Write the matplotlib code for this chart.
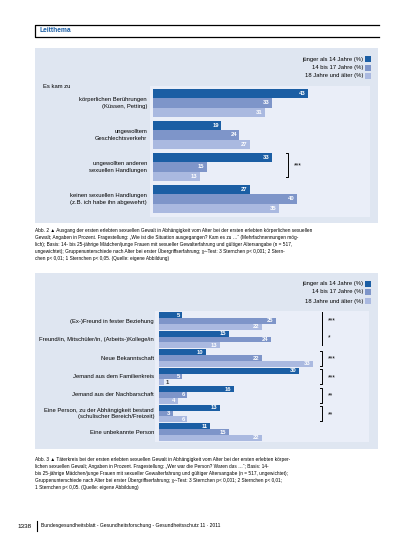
import matplotlib
matplotlib.use("Agg")
from matplotlib import pyplot as plt
from matplotlib.patches import Rectangle
from matplotlib.lines import Line2D
import numpy as np

plt.rcParams['font.family'] = ['Liberation Sans', 'DejaVu Sans']

# data
age_groups = ["jünger als 14 Jahre (%)", "14 bis 17 Jahre (%)", "18 Jahre und älter (%)"]
colors = ["#1b5ea4", "#7e95c9", "#aab9e0"]

outcome_labels = ["körperlichen Berührungen\n(Küssen, Petting)",
                  "ungewolltem\nGeschlechtsverkehr",
                  "ungewollten anderen\nsexuellen Handlungen",
                  "keinen sexuellen Handlungen\n(z.B. ich habe ihn abgewehrt)"]
outcome_u14 = [43, 19, 33, 27]
outcome_14_17 = [33, 24, 15, 40]
outcome_18 = [31, 27, 13, 35]
outcome_sig = ["", "", "***", ""]

offender_labels = ["(Ex-)Freund in fester Beziehung",
                   "Freund/in, Mitschüler/in, (Arbeits-)Kollege/in",
                   "Neue Bekanntschaft",
                   "Jemand aus dem Familienkreis",
                   "Jemand aus der Nachbarschaft",
                   "Eine Person, zu der Abhängigkeit bestand\n(schulischer Bereich/Freizeit)",
                   "Eine unbekannte Person"]
offender_u14 = [5, 15, 10, 30, 16, 13, 11]
offender_14_17 = [25, 24, 22, 5, 6, 3, 15]
offender_18 = [22, 13, 33, 1, 4, 6, 22]
offender_sig = ["***", "*", "***", "***", "**", "**", ""]

caption1 = ("Abb. 2 \u25b2 Ausgang der ersten erlebten sexuellen Gewalt in Abhängigkeit vom Alter bei der ersten erlebten körperlichen sexuellen\n"
            "Gewalt; Angaben in Prozent. Fragestellung: \u201eWie ist die Situation ausgegangen? Kam es zu \u2026\u201c (Mehrfachnennungen mög-\n"
            "lich); Basis: 14- bis 25-jährige Mädchen/junge Frauen mit sexueller Gewalterfahrung und gültiger Altersangabe (n = 517,\n"
            "ungewichtet); Gruppenunterschiede nach Alter bei erster Übergriffserfahrung; \u03c7\u00b2-Test: 3 Sternchen p< 0,001; 2 Stern-\n"
            "chen p< 0,01; 1 Sternchen p< 0,05. (Quelle: eigene Abbildung)")
caption2 = ("Abb. 3 \u25b2 Täterkreis bei der ersten erlebten sexuellen Gewalt in Abhängigkeit vom Alter bei der ersten erlebten körper-\n"
            "lichen sexuellen Gewalt; Angaben in Prozent. Fragestellung: \u201eWer war die Person? Waren das \u2026\u201c; Basis: 14-\n"
            "bis 25-jährige Mädchen/junge Frauen mit sexueller Gewalterfahrung und gültiger Altersangabe (n = 517, ungewichtet);\n"
            "Gruppenunterschiede nach Alter bei erster Übergriffserfahrung; \u03c7\u00b2-Test: 3 Sternchen p< 0,001; 2 Sternchen p< 0,01;\n"
            "1 Sternchen p< 0,05. (Quelle: eigene Abbildung)")

W, H = 413, 550
fig = plt.figure(figsize=(W / 100, H / 100), dpi=100)


def fx(x):
    return x / W


def fy(y):
    return 1 - y / H


def add_rect(x0, y0, x1, y1, color, z=-1):
    fig.patches.append(Rectangle((fx(x0), fy(y1)), fx(x1) - fx(x0), fy(y0) - fy(y1),
                                 transform=fig.transFigure, facecolor=color,
                                 edgecolor="none", zorder=z))


def add_line(xs, ys, lw=0.7):
    fig.lines.append(Line2D([fx(x) for x in xs], [fy(y) for y in ys],
                            transform=fig.transFigure, color="black", lw=lw, zorder=3))


# header box
add_line([379, 35, 35, 379], [25, 25, 37, 37], lw=0.9)
fig.text(fx(39), fy(31), "Leitthema", color="#1b5ea4", fontsize=4.8,
         fontweight="bold", va="center")


def panel(box, ax_box, x0px, pxper, pitch, first_center, labels, series,
          sig, label_x, legend_y, bar_h, brackets, star_x, fs):
    add_rect(*box, "#dfe6f1")
    left, top, right, bottom = ax_box
    ax = fig.add_axes([fx(left), fy(bottom), fx(right) - fx(left), fy(top) - fy(bottom)])
    ax.set_facecolor("#eaeef8")
    for s in ax.spines.values():
        s.set_visible(False)
    ax.set_xticks([])
    ax.set_yticks([])
    ax.set_xlim((left - x0px) / pxper, (right - x0px) / pxper)
    ax.set_ylim((bottom - first_center) / pitch, (top - first_center) / pitch)

    n = len(labels)
    idx = np.arange(n)
    for j, vals in enumerate(series):
        ypos = idx + (j - 1) * bar_h
        ax.barh(ypos, vals, height=bar_h, color=colors[j], edgecolor="none")
        for y, v in zip(ypos, vals):
            if v >= 3:
                ax.annotate(str(v), (v, y), xytext=(-1.8, 0), textcoords="offset points",
                            ha="right", va="center", color="white", fontsize=fs,
                            fontweight="bold")
            else:
                ax.annotate(str(v), (v, y), xytext=(1.2, 0), textcoords="offset points",
                            ha="left", va="center", color="#333333", fontsize=fs,
                            fontweight="bold")

    for i, lab in enumerate(labels):
        yc = first_center + i * pitch
        fig.text(fx(label_x), fy(yc), lab, ha="right", va="center", fontsize=fs,
                 linespacing=1.3)

    # legend
    for j, name in enumerate(age_groups):
        yy = legend_y[j]
        fig.text(fx(363), fy(yy), name, ha="right", va="center", fontsize=fs)
        add_rect(365, yy - 2.6, 370.5, yy + 2.6, colors[j], z=2)

    # significance brackets
    for (y0, y1, ticks), s in zip(brackets, sig):
        if not s:
            continue
        bx = star_x - 6
        if ticks:
            add_line([bx - 2, bx, bx, bx - 2], [y0, y0, y1, y1])
        else:
            add_line([bx, bx], [y0, y1])
        fig.text(fx(star_x), fy((y0 + y1) / 2 + 1), s, ha="left", va="center",
                 fontsize=fs + 0.5)
    return ax


# panel 1
fig.text(fx(43), fy(87), "Es kam zu", fontsize=4.2, va="center")
b1 = [(89 + 32 * i, 113 + 32 * i, True) for i in range(4)]
panel((35, 48, 378, 223), (150, 86, 370, 217), 153, 3.6, 32, 103,
      outcome_labels, [outcome_u14, outcome_14_17, outcome_18], outcome_sig,
      147, [59, 68, 76], 0.29, b1, 294, 4.2)

# panel 2
b2 = [(312, 328, False), (329, 345, False)]
for i in range(2, 7):
    c = 321 + 18.5 * i
    b2.append((c - 7.5, c + 7.5, True))
panel((35, 273, 378, 449), (155, 311, 369, 442), 159, 4.67, 18.5, 321,
      offender_labels, [offender_u14, offender_14_17, offender_18], offender_sig,
      154, [284, 292, 301], 0.31, b2, 328, 4.2)
# join the first two bracket lines
add_line([322, 322], [312, 345])

# captions
fig.text(fx(35), fy(228), caption1, fontsize=3.45, va="top", ha="left",
         linespacing=1.45)
fig.text(fx(35), fy(457), caption2, fontsize=3.45, va="top", ha="left",
         linespacing=1.45)

# footer
fig.text(fx(17), fy(526), "1338", fontsize=4.6, va="center", ha="left")
add_line([37, 37], [521, 531], lw=0.8)
fig.text(fx(41), fy(526),
         "Bundesgesundheitsblatt - Gesundheitsforschung - Gesundheitsschutz 11 \u00b7 2011",
         fontsize=3.6, va="center", ha="left")

fig.savefig("out.png", dpi=100)
